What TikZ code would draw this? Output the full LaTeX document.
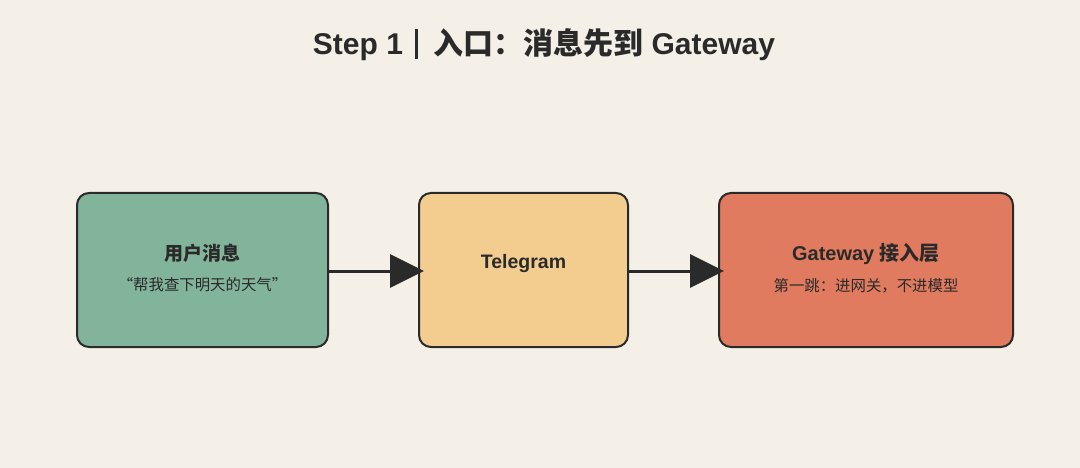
\documentclass[tikz,border=0pt]{standalone}
\usepackage{fontspec}
\setmainfont{Liberation Sans}
\newfontfamily\cjk{Noto Sans CJK SC}
\usetikzlibrary{arrows.meta}
\definecolor{bg}{HTML}{F4F0E7}
\definecolor{ink}{HTML}{2A2A2A}
\definecolor{greenbox}{HTML}{82B39B}
\definecolor{yellowbox}{HTML}{F2CD8F}
\definecolor{redbox}{HTML}{E07B5F}
\begin{document}
\begin{tikzpicture}[x=1pt,y=-1pt,
  box/.style={draw=ink,line width=2pt,rounded corners=12pt,minimum height=154pt,inner sep=0pt},
  flow/.style={draw=ink,line width=3pt,-{Triangle[length=34pt,width=33pt]}},
  ttl/.style={font=\bfseries\fontsize{19pt}{22pt}\selectfont,text=ink},
  sub/.style={font=\fontsize{15.4pt}{18pt}\selectfont,text=ink}]
\fill[bg] (0,0) rectangle (1080,468);
\useasboundingbox (0,0) rectangle (1080,468);
\node[text=ink,font=\bfseries\fontsize{30pt}{34pt}\selectfont] (title) at (544,45)
  {Step 1\hspace{0.4em}{\rule[-0.14em]{0.11em}{1.0em}}\hspace{0.5em}{\cjk\bfseries 入口：消息先到} Gateway};
\node[box,fill=greenbox,minimum width=251pt] (user) at (202.5,270) {};
\node[box,fill=yellowbox,minimum width=209pt] (tg) at (523.5,270) {};
\node[box,fill=redbox,minimum width=294pt] (gw) at (866,270) {};
\node[ttl] (userT) at (202.5,253) {\cjk\bfseries 用户消息};
\node[sub] (userS) at (202.5,285) {\cjk “帮我查下明天的天气”};
\node[ttl,font=\bfseries\fontsize{19.5pt}{22pt}\selectfont] (tgT) at (523.5,264) {Telegram};
\node[ttl,font=\bfseries\fontsize{20pt}{23pt}\selectfont] (gwT) at (866,254) {Gateway {\cjk\bfseries 接入层}};
\node[sub] (gwS) at (866,286) {\cjk 第一跳：进网关，不进模型};
\draw[flow] ([yshift=-1pt]user.east) -- ([xshift=6pt,yshift=-1pt]tg.west);
\draw[flow] ([yshift=-1pt]tg.east) -- ([xshift=6pt,yshift=-1pt]gw.west);
\end{tikzpicture}
\end{document}
